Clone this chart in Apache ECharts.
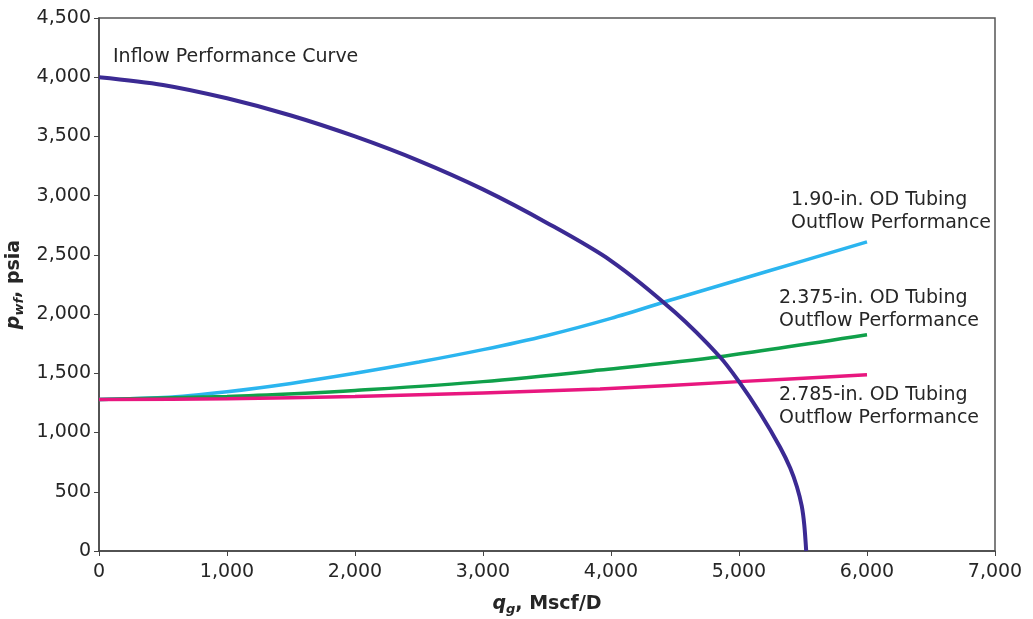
<!DOCTYPE html>
<html>
<head>
<meta charset="utf-8">
<script src="https://cdn.jsdelivr.net/npm/echarts@6/dist/echarts.min.js"></script>
<style>
  html, body { margin: 0; padding: 0; background: #fff; }
  #chart { width: 1033px; height: 619px; }
</style>
</head>
<body>
<div id="chart"></div>
<script>
// values: gas rate q (Mscf/D) and pressure pwf (psia)
const iprQ = [0, 500, 1000, 1500, 2000, 2500, 3000, 3500, 4000, 4500, 4850, 5000, 5164, 5320, 5400, 5453, 5490, 5510, 5525];
const iprP = [4000, 3935, 3822, 3677, 3500, 3294, 3053, 2770, 2450, 2015, 1640, 1430, 1165, 878, 700, 540, 380, 220, 0];

const tub190Q = [0, 500, 1000, 1500, 2000, 2500, 3000, 3500, 4000, 4500, 5000, 5500, 6000];
const tub190P = [1280, 1295, 1345, 1415, 1500, 1595, 1700, 1820, 1964, 2130, 2290, 2450, 2610];

const tub2375Q = [0, 1000, 1570, 2000, 3000, 3914, 4850, 6000];
const tub2375P = [1280, 1305, 1330, 1355, 1430, 1528, 1640, 1825];

const tub2785Q = [0, 1000, 2000, 3000, 3914, 5000, 6000];
const tub2785P = [1280, 1285, 1305, 1335, 1368, 1430, 1488];

const pair = (xs, ys) => xs.map((x, i) => [x, ys[i]])

const chart = echarts.init(document.getElementById('chart'));
const font = 'DejaVu Sans, sans-serif'
const txt = '#262626'

// 曲线旁的说明文字
const notes = [
  { left: 113, top: 46, lines: ['Inflow Performance Curve'] },
  { left: 791, top: 189, lines: ['1.90-in. OD Tubing', 'Outflow Performance'] },
  { left: 779, top: 287, lines: ['2.375-in. OD Tubing', 'Outflow Performance'] },
  { left: 779, top: 384, lines: ['2.785-in. OD Tubing', 'Outflow Performance'] }
]

const nameRich = {
  b: { fontSize: 19, fontWeight: 'bold', fontStyle: 'italic', fontFamily: font, color: txt },
  s: { fontSize: 13, fontWeight: 'bold', fontStyle: 'italic', fontFamily: font, color: txt, padding: [10, 0, 0, 0] },
  n: { fontSize: 19, fontWeight: 'bold', fontFamily: font, color: txt }
}

const option = {
  backgroundColor: '#fff',
  animation: false,
  grid: {
    left: 99,
    right: 38,
    top: 18,
    bottom: 68,
    outerBoundsMode: 'none',
    containLabel: false,
    show: true,
    borderColor: '#555',
    borderWidth: 1.5
  },
  xAxis: {
    type: 'value',
    min: 0,
    max: 7000,
    interval: 1000,
    axisLine: { show: true, lineStyle: { color: '#444', width: 1.5 } },
    axisTick: { show: true, length: 5, lineStyle: { color: '#444' } },
    splitLine: { show: false },
    axisLabel: {
      color: txt, fontSize: 19, fontFamily: font, margin: 12,
      formatter: v => v.toLocaleString('en-US')
    },
    name: '{b|q}{s|g}{n|, Mscf/D}',
    nameLocation: 'middle',
    nameGap: 42,
    nameTextStyle: { rich: nameRich }
  },
  yAxis: {
    type: 'value',
    min: 0,
    max: 4500,
    interval: 500,
    axisLine: { show: true, lineStyle: { color: '#444', width: 1.5 } },
    axisTick: { show: true, length: 5, lineStyle: { color: '#444' } },
    splitLine: { show: false },
    axisLabel: {
      color: txt, fontSize: 19, fontFamily: font, margin: 8,
      formatter: v => v.toLocaleString('en-US')
    },
    name: '{b|p}{s|wf}{n|, psia}',
    nameLocation: 'middle',
    nameRotate: 90,
    nameGap: 63,
    nameTextStyle: { rich: nameRich }
  },
  graphic: notes.map(n => ({
    type: 'text',
    left: n.left,
    top: n.top,
    style: {
      text: n.lines.join('\n'),
      font: '19px ' + font,
      fill: txt,
      lineHeight: 23
    }
  })),
  series: [
    {
      name: 'IPR',
      type: 'line',
      data: pair(iprQ, iprP),
      smooth: 0.3,
      showSymbol: false,
      lineStyle: { color: '#3b2a93', width: 4 },
      z: 5
    },
    {
      name: '1.90',
      type: 'line',
      data: pair(tub190Q, tub190P),
      smooth: 0.3,
      showSymbol: false,
      lineStyle: { color: '#2bb5ef', width: 3.5 }
    },
    {
      name: '2.375',
      type: 'line',
      data: pair(tub2375Q, tub2375P),
      smooth: 0.3,
      showSymbol: false,
      lineStyle: { color: '#10a04a', width: 3.5 }
    },
    {
      name: '2.785',
      type: 'line',
      data: pair(tub2785Q, tub2785P),
      smooth: 0.3,
      showSymbol: false,
      lineStyle: { color: '#e8177f', width: 3.5 }
    }
  ]
}
chart.setOption(option)
</script>
</body>
</html>
